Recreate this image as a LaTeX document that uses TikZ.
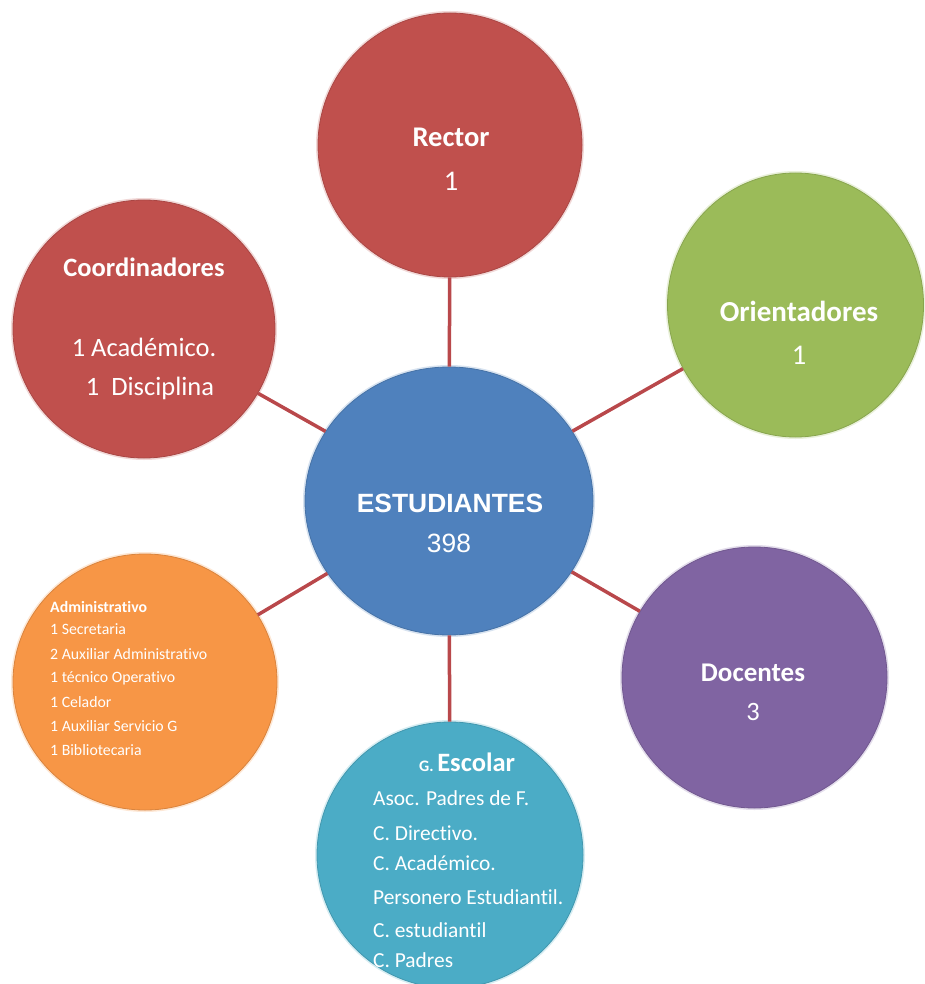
\documentclass[tikz,border=0pt]{standalone}
\usepackage{fontspec}
\setmainfont{Carlito}[Ligatures=NoCommon]
\newfontfamily\arialf{Liberation Sans}
\usetikzlibrary{shapes.geometric}
\definecolor{cred}{HTML}{C0504D}
\definecolor{cgreen}{HTML}{9BBB59}
\definecolor{cpurple}{HTML}{8064A2}
\definecolor{cblue}{HTML}{4F81BD}
\definecolor{corange}{HTML}{F79646}
\definecolor{caqua}{HTML}{4BACC6}
\definecolor{cline}{HTML}{B9484B}
\begin{document}
\begin{tikzpicture}[x=1pt,y=-1pt,
  bub/.style={ellipse, inner sep=0pt, fill=#1, draw=#1!88!black, line width=0.8pt,
    preaction={draw=#1!22, line width=4pt}},
  conn/.style={draw=cline, line width=3.5pt},
  wt/.style={text=white, inner sep=0pt, anchor=base},
  wl/.style={text=white, inner sep=0pt, anchor=base west},
  big/.style={font=\fontsize{26.5}{30}\selectfont\bfseries},
  bign/.style={font=\fontsize{26.5}{30}\selectfont},
  small/.style={font=\fontsize{15.8}{18}\selectfont},
  mid/.style={font=\fontsize{21.4}{24}\selectfont},
]
\useasboundingbox (0,0) rectangle (924,984);

% circles
\node[bub=cred, minimum width=264pt, minimum height=264pt] (rector) at (450,145) {};
\node[bub=cgreen, minimum width=256pt, minimum height=264pt] (orient) at (795.5,305) {};
\node[bub=cred, minimum width=262pt, minimum height=258pt] (coord) at (144,329) {};
\node[bub=cblue, minimum width=288pt, minimum height=268pt] (est) at (449,501) {};
\node[bub=cpurple, minimum width=265pt, minimum height=261pt] (doc) at (754.5,677.5) {};
\node[bub=corange, minimum width=264pt, minimum height=256pt] (adm) at (145,682) {};
\node[bub=caqua, minimum width=266pt, minimum height=266pt] (esc) at (450,855) {};

% connectors
\draw[conn] (est) -- (rector);
\draw[conn] (est) -- (orient);
\draw[conn] (est) -- (coord);
\draw[conn] (est) -- (doc);
\draw[conn] (est) -- (adm);
\draw[conn] (est) -- (esc);

% texts
\node[wt, font=\fontsize{28.5}{32}\selectfont\bfseries] (t1) at (451,147) {Rector};
\node[wt, font=\fontsize{28.5}{32}\selectfont] (t2) at (451,191) {1};

\node[wt, font=\fontsize{29}{32}\selectfont\bfseries] (t3) at (799,321.5) {Orientadores};
\node[wt, font=\fontsize{28.5}{32}\selectfont] (t4) at (799,364.5) {1};

\node[wt, big] (t5) at (144,276.6) {Coordinadores};
\node[wt, bign] (t6) at (144,356.6) {1 Académico.};
\node[wt, bign] (t7) at (150,395.6) {1\ \ Disciplina};

\node[wt, font=\arialf\fontsize{26.4}{30}\selectfont\bfseries] (t8) at (450,512.4) {ESTUDIANTES};
\node[wt, font=\arialf\fontsize{26.4}{30}\selectfont] (t9) at (449,552.4) {398};

\node[wt, font=\fontsize{27}{30}\selectfont\bfseries] (t10) at (753,681.6) {Docentes};
\node[wt, bign] (t11) at (753,720.6) {3};

\node[wl, font=\fontsize{15.8}{18}\selectfont\bfseries] (a0) at (50,612) {Administrativo};
\node[wl, small] (a1) at (50,634) {1 Secretaria};
\node[wl, small] (a2) at (50,659) {2 Auxiliar Administrativo};
\node[wl, small] (a3) at (50,682) {1 técnico Operativo};
\node[wl, small] (a4) at (50,707) {1 Celador};
\node[wl, small] (a5) at (50,731) {1 Auxiliar Servicio G};
\node[wl, small] (a6) at (50,755) {1 Bibliotecaria};

\node[wl, font=\bfseries] (e0) at (419,771.6) {\fontsize{16}{18}\selectfont G. \fontsize{26.5}{30}\selectfont Escolar};
\node[wl, mid] (e1) at (373,805) {Asoc. Padres de F.};
\node[wl, mid] (e2) at (373,840) {C. Directivo.};
\node[wl, mid] (e3) at (373,870) {C. Académico.};
\node[wl, mid] (e4) at (373,904) {Personero Estudiantil.};
\node[wl, mid] (e5) at (373,937) {C. estudiantil};
\node[wl, mid] (e6) at (373,967) {C. Padres};
\end{tikzpicture}
\end{document}
